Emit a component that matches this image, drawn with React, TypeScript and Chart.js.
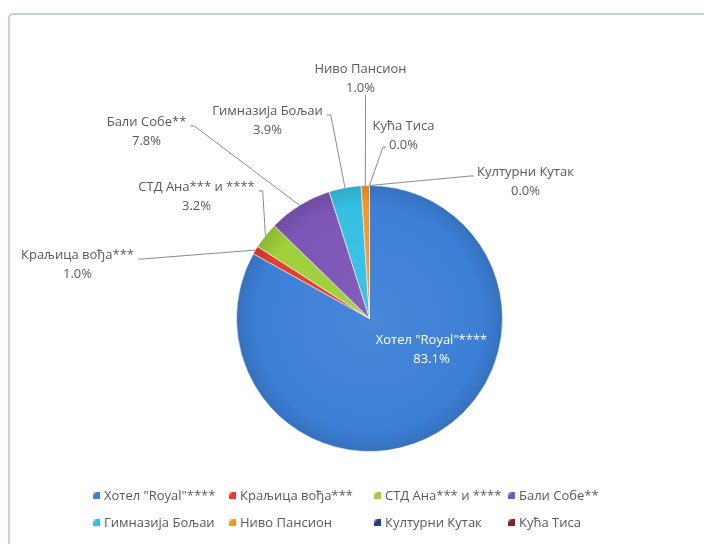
import { useEffect, useRef } from "react";
import { Chart, PieController, ArcElement } from "chart.js";

Chart.register(PieController, ArcElement);

// --- data ---
const hotels = [
  'Хотел "Royal"****',
  "Краљица вођа***",
  "СТД Ана*** и ****",
  "Бали Собе**",
  "Гимназија Бољаи",
  "Ниво Пансион",
  "Културни Кутак",
  "Кућа Тиса",
];
const shares = [83.1, 1.0, 3.2, 7.8, 3.9, 1.0, 0.0, 0.0];

const sliceColors = [
  "#3c7fd6",
  "#e43d2c",
  "#9fcf3a",
  "#7d55b6",
  "#35bfe2",
  "#f5962a",
  "#1f3f84",
  "#8c1f22",
];

// --- label placement (px from pie centre) and where the leader leaves the text ---
const labelSpots = [
  { dx: 62, dy: 31, side: "inside" },
  { dx: -292, dy: -54, side: "right" },
  { dx: -173, dy: -122, side: "right" },
  { dx: -223, dy: -187, side: "right" },
  { dx: -102, dy: -198, side: "right" },
  { dx: -9, dy: -240, side: "bottom" },
  { dx: 156, dy: -137, side: "leftName" },
  { dx: 34, dy: -183, side: "leftValue" },
];

const FONT = '"Open Sans", "Noto Sans", sans-serif';
const TEXT = "#595959";
const LINE_GAP = 19;

// mix a hex colour with white (amt > 0) or black (amt < 0)
function shade(hex: string, amt: number) {
  const n = parseInt(hex.slice(1), 16);
  const t = amt > 0 ? 255 : 0;
  const a = Math.abs(amt);
  const ch = (v: number) => Math.round(v + (t - v) * a);
  return `rgb(${ch((n >> 16) & 255)},${ch((n >> 8) & 255)},${ch(n & 255)})`;
}

const sliceLabels = {
  id: "sliceLabels",
  afterDatasetsDraw(chart: any) {
    const ctx = chart.ctx as CanvasRenderingContext2D;
    const arcs = chart.getDatasetMeta(0).data;
    ctx.save();
    ctx.font = `13px ${FONT}`;
    ctx.textAlign = "center";
    ctx.textBaseline = "middle";
    arcs.forEach((arc: any, i: number) => {
      const { x, y, startAngle, endAngle, outerRadius } = arc.getProps(
        ["x", "y", "startAngle", "endAngle", "outerRadius"],
        true
      );
      const spot = labelSpots[i];
      const cx = x + spot.dx;
      const cy = y + spot.dy;
      const name = hotels[i];
      const pct = shares[i].toFixed(1) + "%";
      const nameY = cy - LINE_GAP / 2;
      const pctY = cy + LINE_GAP / 2;

      ctx.fillStyle = spot.side === "inside" ? "#ffffff" : TEXT;
      ctx.fillText(name, cx, nameY);
      ctx.fillText(pct, cx, pctY);
      if (spot.side === "inside") return;

      const nw = ctx.measureText(name).width;
      const pw = ctx.measureText(pct).width;
      const mid = (startAngle + endAngle) / 2;
      const ex = x + Math.cos(mid) * outerRadius;
      const ey = y + Math.sin(mid) * outerRadius;

      ctx.strokeStyle = "#8a8a8a";
      ctx.lineWidth = 1;
      ctx.beginPath();
      if (spot.side === "right") {
        const sx = cx + nw / 2 + 4;
        const sy = nameY + 4;
        ctx.moveTo(sx, sy);
        ctx.lineTo(sx + 4, sy);
      } else if (spot.side === "bottom") {
        ctx.moveTo(cx + 5, pctY + 7);
      } else if (spot.side === "leftName") {
        const sx = cx - nw / 2 - 3;
        const sy = nameY + 4;
        ctx.moveTo(sx, sy);
        ctx.lineTo(sx - 4, sy);
      } else {
        const sx = cx - pw / 2 - 3;
        ctx.moveTo(sx, pctY + 2);
        ctx.lineTo(sx - 3, pctY + 2);
      }
      ctx.lineTo(ex, ey);
      ctx.stroke();
    });
    ctx.restore();
  },
};

// legend laid out in columns like the original sheet
const legendCols = [83, 219, 364, 498];
const legendRows = [481, 508];

const columnLegend = {
  id: "columnLegend",
  afterDraw(chart: any) {
    const ctx = chart.ctx as CanvasRenderingContext2D;
    ctx.save();
    ctx.font = `13px ${FONT}`;
    ctx.textAlign = "left";
    ctx.textBaseline = "middle";
    hotels.forEach((name, i) => {
      const bx = legendCols[i % 4];
      const by = legendRows[Math.floor(i / 4)];
      const g = ctx.createLinearGradient(bx, by - 4, bx + 7, by + 3);
      g.addColorStop(0, "#ffffff");
      g.addColorStop(0.35, sliceColors[i]);
      g.addColorStop(1, sliceColors[i]);
      ctx.fillStyle = g;
      ctx.fillRect(bx, by - 4, 7, 7);
      ctx.fillStyle = TEXT;
      ctx.fillText(name, bx + 11, by);
    });
    ctx.restore();
  },
};

export default function App() {
  const canvasRef = useRef<HTMLCanvasElement | null>(null);

  useEffect(() => {
    if (!canvasRef.current) return;
    const chart = new Chart(canvasRef.current, {
      type: "pie",
      data: {
        labels: hotels,
        datasets: [
          {
            data: shares,
            backgroundColor: (c: any) => {
              const base = sliceColors[c.dataIndex];
              const area = c.chart.chartArea;
              if (!area) return base;
              const cx = (area.left + area.right) / 2;
              const cy = (area.top + area.bottom) / 2;
              const r = Math.min(area.width, area.height) / 2;
              const g = c.chart.ctx.createRadialGradient(cx, cy, 0, cx, cy, r);
              g.addColorStop(0, shade(base, 0.06));
              g.addColorStop(0.85, base);
              g.addColorStop(1, shade(base, -0.12));
              return g;
            },
            borderColor: "rgba(255,255,255,0.55)",
            borderWidth: 1,
            hoverOffset: 0,
          },
        ],
      },
      options: {
        responsive: true,
        maintainAspectRatio: false,
        animation: false,
        events: [],
        layout: { padding: { top: 170, bottom: 92, left: 226, right: 201 } },
        plugins: {
          legend: { display: false },
          tooltip: { enabled: false },
        },
      },
      plugins: [sliceLabels, columnLegend],
    });
    return () => chart.destroy();
  }, []);

  return (
    <div
      style={{
        position: "absolute",
        left: 8,
        top: 13,
        width: 696,
        height: 531,
        boxSizing: "border-box",
        borderTop: "2px solid #c2d0e2",
        borderLeft: "2px solid #c2d0e2",
        borderTopLeftRadius: 5,
        background: "#ffffff",
      }}
    >
      <canvas ref={canvasRef}></canvas>
    </div>
  );
}
